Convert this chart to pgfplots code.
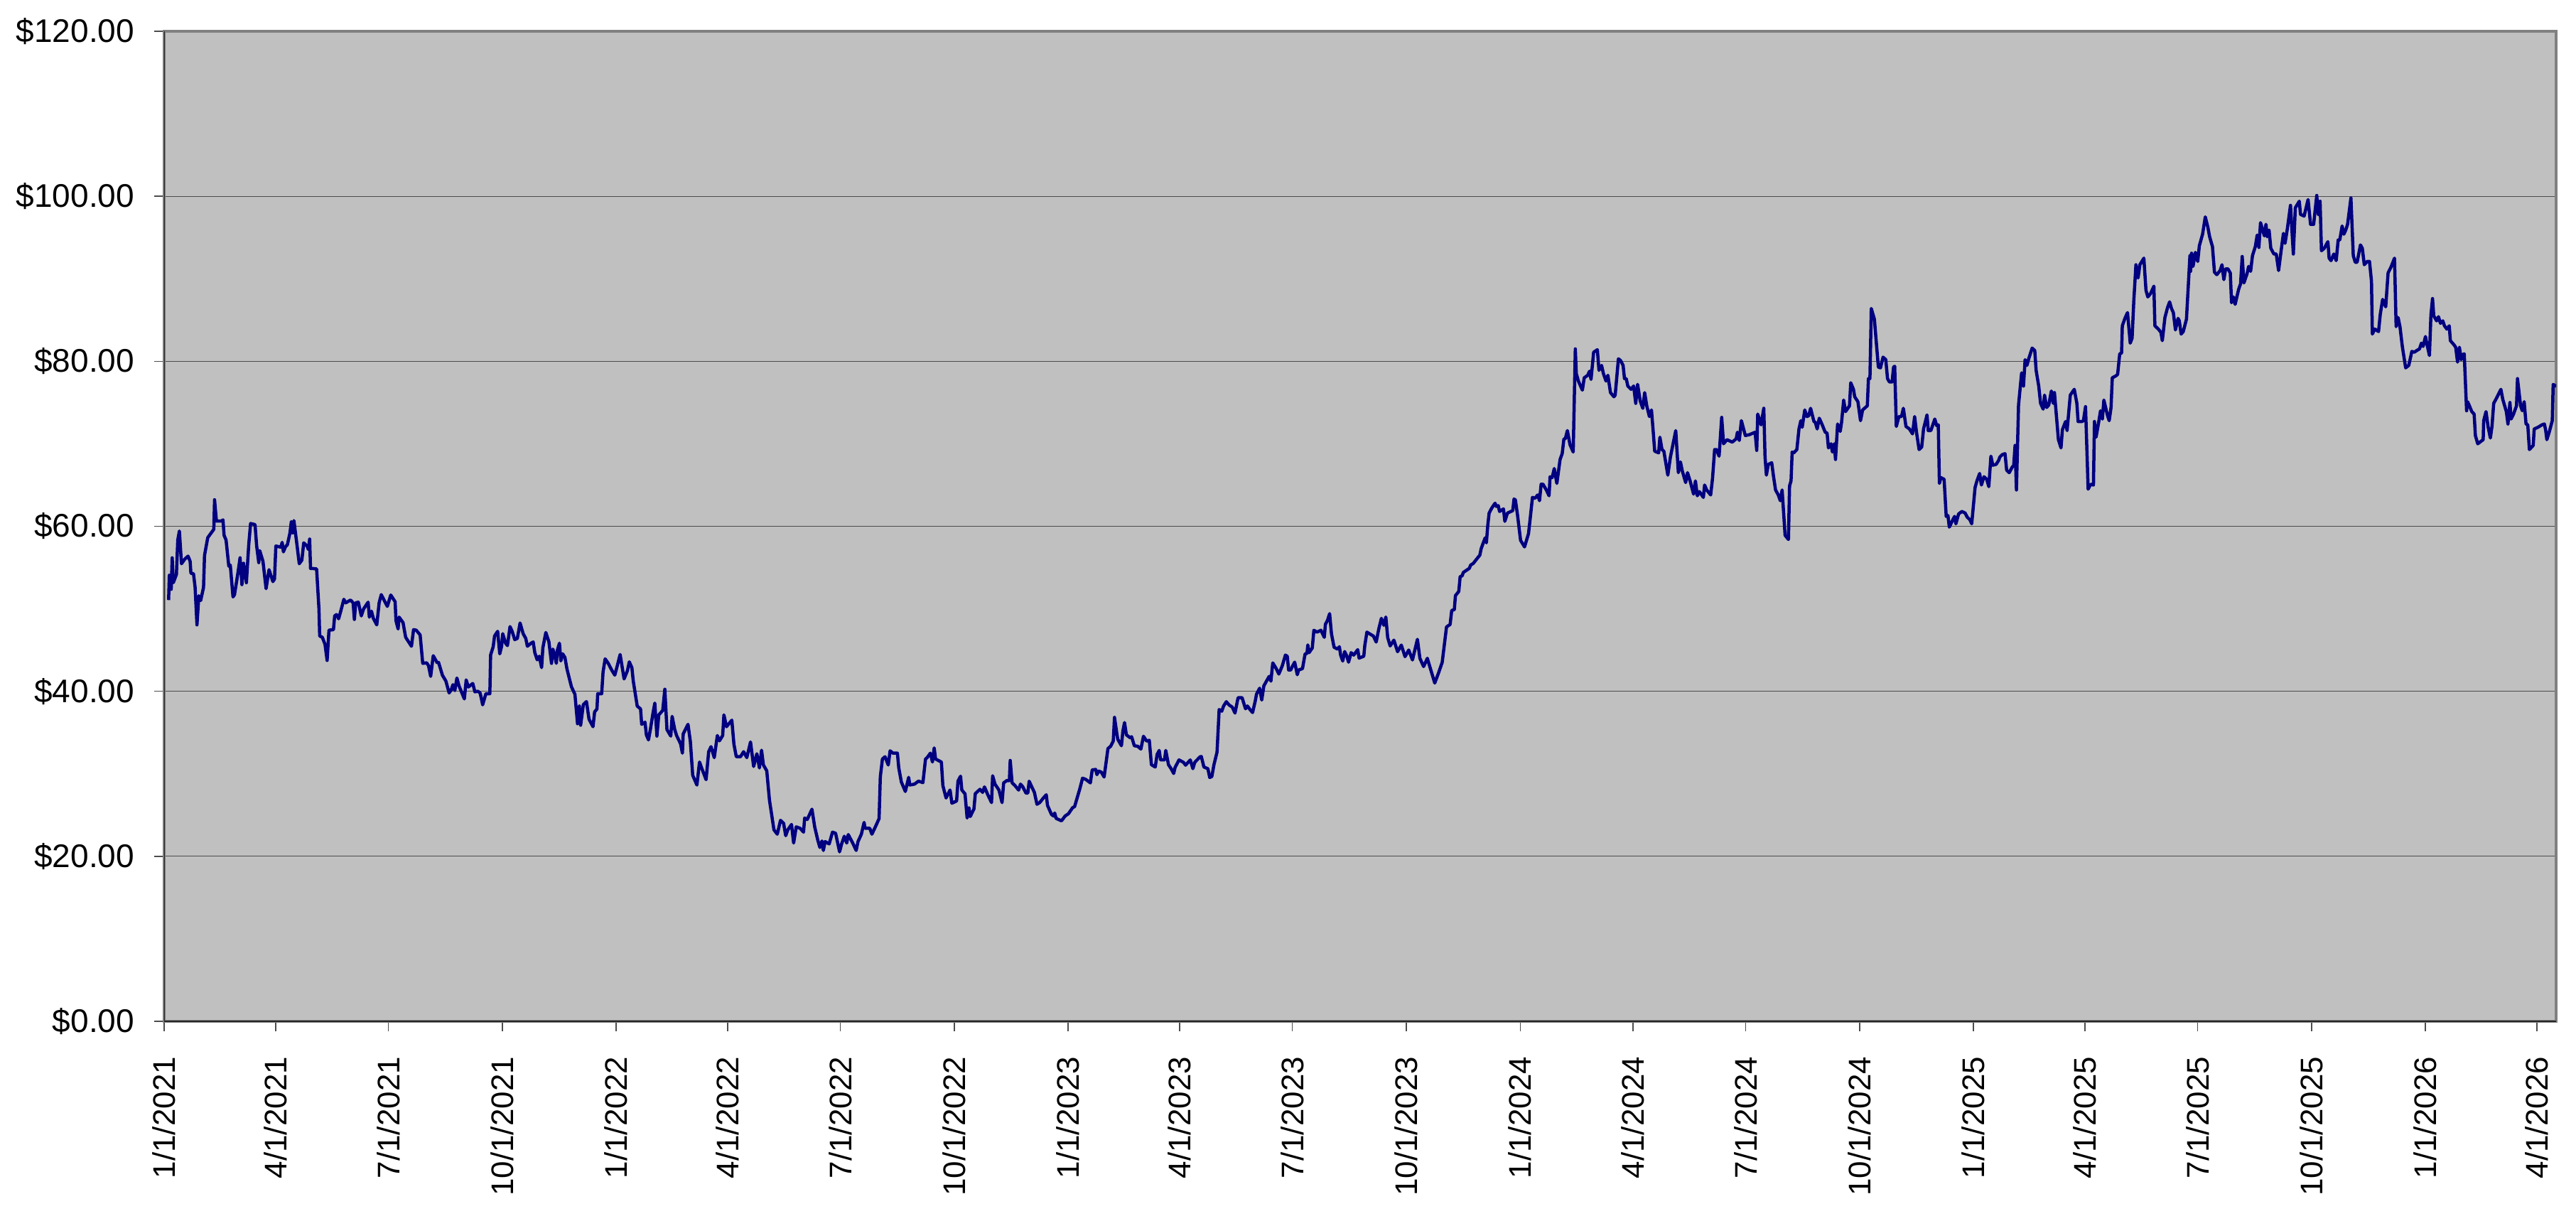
\documentclass[border=0pt]{standalone}
\usepackage{fontspec}
\setmainfont{Liberation Sans}
\usepackage{pgfplots}
\pgfplotsset{compat=1.18}
\definecolor{plotbg}{HTML}{C0C0C0}
\definecolor{navyline}{HTML}{000080}
\definecolor{bordergray}{HTML}{808080}
\begin{document}
\begin{tikzpicture}
\begin{axis}[
  at={(0,0)}, anchor=south west,
  scale only axis,
  width=673.2pt, height=278.6pt,
  xmin=0, xmax=1931.5, ymin=0, ymax=120,
  axis background/.style={fill=plotbg},
  axis line style={bordergray, line width=0.8pt},
  xtick={0,90,181,273,365,455,546,638,730,820,911,1003,1095,1186,1277,1369,1461,1551,1642,1734,1826,1916},
  xticklabels={1/1/2021,4/1/2021,7/1/2021,10/1/2021,1/1/2022,4/1/2022,7/1/2022,10/1/2022,1/1/2023,4/1/2023,7/1/2023,10/1/2023,1/1/2024,4/1/2024,7/1/2024,10/1/2024,1/1/2025,4/1/2025,7/1/2025,10/1/2025,1/1/2026,4/1/2026},
  ytick={0,20,40,60,80,100,120},
  yticklabels={\$0.00,\$20.00,\$40.00,\$60.00,\$80.00,\$100.00,\$120.00},
  tick pos=left, tick align=outside,
  major tick length=2.8pt,
  every tick/.style={black!70, line width=0.3pt},
  ymajorgrids, grid style={black!70, line width=0.24pt},
  yticklabel style={font=\fontsize{9.2}{10}\selectfont, anchor=east, inner sep=0pt, xshift=-5.4pt},
  xticklabel style={font=\fontsize{8.8}{10}\selectfont, yshift=-7pt, rotate=90, anchor=east, inner sep=0pt},
]
\addplot[navyline, line width=0.9pt, line join=round, no marks] table {
d v
3.6 51.06
4.2 54.08
5.0 54.0
5.7 52.36
6.5 56.18
7.4 53.16
8.5 53.6
9.9 54.17
11.0 58.33
12.3 59.43
14.0 55.46
16.7 56.03
19.3 56.38
21.0 55.75
21.6 54.31
23.7 54.25
25.0 52.59
26.5 48.05
28.0 51.58
29.5 51.0
31.8 52.59
32.6 56.47
35.2 58.62
38.0 59.2
40.1 59.63
40.7 63.22
42.2 60.63
46.4 60.63
47.5 60.78
48.4 58.9
50.0 58.33
52.2 55.17
53.4 55.3
55.6 51.44
56.8 51.7
59.6 54.37
61.3 56.18
62.8 52.93
64.1 55.52
66.4 53.16
68.3 57.76
69.8 60.34
73.4 60.2
74.7 57.61
76.4 55.6
77.2 57.04
79.8 55.75
82.3 52.44
84.7 54.74
87.8 53.3
89.1 53.6
90.2 57.61
94.2 57.47
95.3 58.05
96.3 56.9
98.0 57.53
99.5 57.76
101.6 59.2
102.7 60.57
103.8 59.2
104.8 60.69
107.0 58.05
109.1 55.46
111.2 55.9
112.7 57.99
115.4 57.61
116.5 57.18
117.5 58.45
118.2 54.89
119.7 54.89
123.1 54.83
125.0 50.0
125.6 46.7
127.7 46.55
129.9 45.69
131.6 43.74
133.1 47.41
136.7 47.47
137.7 49.14
139.2 49.3
140.9 48.79
142.6 49.71
145.1 51.15
146.6 50.72
150.5 51.06
152.6 50.72
153.6 48.71
154.7 50.72
156.8 50.8
159.2 49.14
161.1 50.0
164.7 50.8
165.7 48.99
167.4 49.71
168.9 48.85
171.7 48.05
173.6 50.72
175.3 51.72
180.2 50.29
183.0 51.67
186.5 50.86
187.2 48.56
188.9 47.56
189.7 48.99
192.9 48.33
195.0 46.55
199.7 45.46
201.4 47.47
203.5 47.41
206.7 46.84
208.8 43.39
212.0 43.45
213.5 43.1
215.2 41.81
217.3 44.31
220.5 43.45
221.6 43.5
224.7 41.95
227.5 41.24
230.1 39.8
231.8 40.17
233.2 40.8
234.7 40.09
236.4 41.61
238.1 40.66
242.4 39.08
243.9 41.38
245.6 40.52
249.2 40.95
250.9 39.94
253.4 40.0
255.1 39.8
256.0 39.22
257.2 38.36
259.8 39.71
263.0 39.71
263.6 44.4
265.7 45.4
266.8 46.7
269.3 47.27
271.0 44.54
272.5 45.46
273.4 46.98
275.7 45.83
277.2 45.54
279.3 47.84
281.0 47.27
283.1 46.26
285.2 46.41
287.4 48.28
289.9 46.98
292.0 46.41
293.3 45.46
296.3 45.83
298.0 45.98
299.3 44.68
301.2 43.82
302.9 44.25
304.8 42.87
305.8 45.26
308.2 47.13
310.7 45.98
312.8 43.39
313.9 45.11
315.0 44.54
316.7 43.39
317.5 44.97
319.2 45.83
320.3 43.68
321.8 44.54
323.6 44.11
325.3 42.68
328.9 40.54
331.7 39.64
333.8 36.07
335.3 38.21
336.3 35.89
338.5 38.39
341.0 38.75
343.1 36.61
346.3 35.71
347.6 37.5
349.5 37.86
350.1 39.71
353.3 39.71
354.4 42.32
356.1 43.93
358.6 43.39
361.4 42.57
363.9 41.96
366.1 43.21
368.2 44.46
371.4 41.5
374.1 42.5
375.6 43.57
377.7 42.86
378.8 41.25
382.0 38.21
384.7 37.86
385.6 36.0
388.3 36.25
389.4 34.71
391.1 34.11
392.6 35.36
394.7 37.32
396.2 38.57
397.9 34.57
399.4 37.14
402.6 37.68
404.3 40.25
406.0 35.36
409.1 34.57
410.2 36.96
412.3 35.36
413.8 34.64
417.0 33.64
418.5 32.5
419.1 34.82
423.0 36.0
424.9 33.93
426.8 29.82
430.2 28.64
432.3 31.43
434.0 30.71
437.6 29.29
439.7 32.68
441.6 33.29
444.2 31.96
446.7 34.64
448.4 34.0
451.0 34.64
452.0 37.14
454.1 35.71
458.4 36.5
460.1 33.57
462.0 32.07
465.4 32.07
467.9 32.68
470.5 31.96
473.5 33.86
476.0 30.89
478.6 32.43
480.7 30.71
482.4 32.86
483.9 31.07
486.6 30.36
488.8 26.79
492.4 23.21
495.1 22.68
497.7 24.36
500.2 24.0
501.9 22.5
503.6 23.21
506.6 23.86
508.3 21.61
510.4 23.57
513.6 23.39
516.3 22.93
517.2 24.64
519.3 24.46
523.1 25.71
525.3 23.57
527.8 21.96
529.5 21.07
531.2 21.86
532.3 20.71
533.7 21.79
537.0 21.5
539.7 22.93
542.2 22.79
545.4 20.54
546.9 21.43
549.2 22.43
551.2 21.61
552.4 22.64
556.0 21.61
558.8 20.71
560.3 21.79
563.0 22.68
565.2 24.11
566.0 23.39
569.8 23.39
571.5 22.68
574.1 23.5
577.3 24.57
578.3 29.64
580.0 31.79
582.1 32.07
584.7 31.07
586.2 32.79
588.5 32.5
592.1 32.5
593.2 30.71
595.3 29.0
598.5 27.86
601.2 29.57
602.1 28.64
605.9 28.75
609.1 29.11
612.7 28.93
614.8 31.79
616.1 31.96
618.7 32.5
620.4 31.43
621.8 33.14
622.9 31.79
627.6 31.43
628.8 28.57
631.4 27.07
634.6 28.04
636.1 26.43
639.9 26.71
641.0 29.11
643.1 29.71
644.1 28.04
646.7 27.57
648.4 24.64
649.9 25.89
650.9 24.82
653.9 25.74
655.0 27.6
657.1 27.89
658.8 28.12
660.9 27.75
662.4 28.41
665.1 27.46
668.1 26.51
669.0 29.76
670.9 28.75
674.1 28.03
676.6 26.51
677.9 28.9
680.4 29.18
682.5 29.18
683.2 31.62
684.7 28.9
686.8 28.61
690.0 28.03
691.5 28.75
693.2 28.46
695.9 27.66
697.4 27.66
698.5 29.1
700.0 28.61
702.7 27.75
704.8 26.31
707.0 26.51
710.1 27.09
712.3 27.46
713.3 26.17
716.5 25.08
718.2 24.88
719.1 25.25
720.3 24.59
724.6 24.3
727.5 24.88
730.3 25.17
733.5 25.88
735.2 26.03
737.7 27.32
739.4 28.18
741.6 29.47
744.1 29.33
747.9 28.9
749.4 30.47
752.2 30.53
753.2 29.9
754.7 30.33
756.8 30.19
759.0 29.61
760.7 31.48
762.1 33.06
764.3 33.34
766.4 33.97
767.4 36.84
769.1 35.06
770.0 34.2
773.0 33.4
774.2 35.21
775.5 36.21
777.0 34.72
780.2 34.35
781.2 34.5
783.4 33.4
786.1 33.34
788.7 33.0
790.8 34.55
793.3 33.97
795.5 34.06
797.2 31.1
800.3 30.82
801.8 32.34
803.5 32.83
804.6 31.68
807.8 31.68
808.8 32.83
811.0 31.1
813.1 30.62
815.2 30.04
816.3 30.76
819.5 31.68
823.1 31.39
824.8 31.05
828.6 31.68
830.7 30.62
832.2 31.39
836.4 32.05
837.5 32.1
839.6 30.82
842.8 30.62
844.3 29.55
846.0 29.67
847.7 31.1
850.2 32.63
851.9 37.79
854.0 37.59
855.5 38.22
857.7 38.74
859.8 38.36
862.5 38.08
864.7 37.36
867.2 39.23
870.4 39.23
873.2 37.88
874.7 38.22
876.8 37.79
878.9 37.42
881.0 38.79
882.1 39.66
884.6 40.37
886.3 38.94
888.0 40.66
890.1 41.23
892.3 41.81
893.7 41.23
895.2 43.44
898.0 42.75
900.1 42.09
902.9 43.1
905.4 44.39
906.9 44.25
908.0 42.58
909.7 42.58
910.8 42.95
912.9 43.53
915.0 42.01
916.1 42.58
919.2 42.75
921.3 44.53
922.8 44.59
923.5 45.62
924.5 44.68
927.1 45.25
928.4 47.4
930.9 47.17
934.1 47.4
936.8 46.54
937.7 48.12
939.4 48.61
941.1 49.41
942.6 46.97
944.7 45.34
947.5 45.11
949.0 45.4
950.0 44.39
951.7 43.67
953.2 44.82
954.9 44.3
956.4 43.53
958.5 44.68
960.6 44.39
963.8 45.05
964.9 44.02
968.7 44.25
969.5 45.54
971.2 47.17
976.5 46.69
978.7 45.97
980.8 47.55
982.9 48.84
984.9 48.0
986.5 49.0
988.0 46.5
990.0 45.5
993.0 46.2
996.0 44.8
999.0 45.6
1002.0 44.2
1005.0 45.0
1008.0 43.8
1012.0 46.3
1014.0 44.0
1017.0 43.0
1020.0 44.0
1023.0 42.5
1026.0 41.0
1029.0 42.2
1032.0 43.5
1035.5 47.8
1038.4 48.1
1039.7 49.8
1041.8 49.9
1042.7 51.6
1045.4 52.1
1046.5 53.9
1048.2 54.0
1049.0 54.4
1053.9 54.9
1055.0 55.3
1057.1 55.5
1059.7 56.0
1062.4 56.5
1063.5 57.3
1065.2 58.0
1066.7 58.6
1067.7 58.0
1068.8 60.1
1069.9 61.6
1072.0 62.2
1074.7 62.8
1075.8 62.4
1077.3 62.5
1078.3 61.8
1081.5 62.1
1082.6 60.6
1084.7 61.6
1089.0 61.9
1090.0 63.3
1091.1 63.2
1092.8 61.4
1095.3 58.3
1098.5 57.5
1101.7 59.1
1103.4 61.4
1104.9 63.5
1107.0 63.4
1109.1 63.8
1110.6 63.1
1111.9 65.1
1113.4 65.1
1116.1 64.4
1118.3 63.7
1119.1 66.0
1120.8 65.9
1122.5 67.0
1124.6 65.2
1127.2 68.1
1128.9 68.8
1130.3 70.6
1131.4 70.6
1133.1 71.6
1135.2 69.9
1137.8 69.0
1139.5 81.5
1140.3 78.5
1142.0 77.6
1145.2 76.5
1146.7 78.0
1149.5 78.3
1151.0 78.8
1152.2 77.8
1154.3 81.1
1157.3 81.4
1158.6 78.9
1160.7 79.5
1162.2 78.5
1164.3 77.6
1165.8 78.3
1167.9 76.2
1170.7 75.7
1171.7 75.9
1174.3 80.3
1176.0 80.1
1178.1 79.5
1179.2 77.9
1180.6 77.9
1181.9 77.0
1184.5 76.6
1186.6 77.0
1188.3 74.9
1189.8 77.2
1191.9 75.2
1194.0 74.3
1195.5 76.2
1197.2 74.6
1199.3 73.3
1201.0 74.1
1202.5 71.3
1203.6 69.1
1206.8 68.9
1207.8 70.8
1209.5 69.3
1211.0 69.1
1214.2 66.2
1216.3 68.4
1220.6 71.6
1222.7 66.5
1224.4 67.8
1225.9 66.7
1228.6 65.3
1230.1 66.5
1232.2 65.5
1235.0 63.9
1236.5 65.5
1238.0 63.7
1239.7 64.2
1242.9 63.5
1243.9 65.0
1245.6 64.4
1248.8 63.8
1250.3 65.8
1252.0 69.3
1253.5 69.3
1255.6 68.5
1257.7 73.2
1259.2 70.0
1262.0 70.5
1266.2 70.2
1269.4 70.6
1270.4 71.4
1271.9 70.4
1273.6 72.8
1276.8 71.0
1280.0 71.1
1284.7 71.4
1286.0 69.2
1286.8 73.6
1289.5 72.3
1291.7 74.3
1292.7 68.4
1293.8 66.2
1295.3 67.5
1298.1 67.7
1299.5 66.1
1301.2 64.4
1303.4 63.8
1305.0 63.1
1306.5 64.4
1308.9 58.9
1311.6 58.4
1312.5 64.9
1313.7 65.5
1314.6 69.0
1315.9 68.9
1318.4 69.3
1320.1 71.8
1321.6 72.8
1322.7 72.0
1324.8 74.1
1326.5 73.3
1328.0 73.4
1329.5 74.3
1332.2 72.7
1333.3 72.6
1334.8 71.8
1336.5 73.1
1338.6 72.4
1341.3 71.4
1342.8 71.3
1343.9 69.5
1346.0 70.0
1347.1 69.0
1348.6 70.0
1349.6 68.1
1351.3 72.4
1353.4 71.5
1354.5 72.6
1356.2 75.3
1357.7 73.9
1360.9 74.6
1361.9 77.4
1364.1 76.6
1365.1 75.7
1367.7 75.1
1369.8 72.8
1371.5 74.1
1375.3 74.6
1376.2 77.9
1377.4 77.9
1378.5 86.4
1381.0 85.1
1384.2 79.3
1385.9 79.2
1388.0 80.5
1390.2 80.2
1391.6 77.9
1393.1 77.5
1395.3 77.5
1396.5 79.3
1397.4 79.4
1398.7 72.1
1400.8 73.3
1402.9 73.3
1404.4 74.3
1406.5 72.1
1409.3 71.8
1411.8 71.2
1413.5 73.3
1415.0 71.4
1417.1 69.3
1419.2 69.6
1420.7 71.8
1423.5 73.5
1424.5 71.6
1426.6 71.6
1429.8 73.0
1431.3 72.2
1432.6 72.3
1433.5 65.2
1434.7 65.9
1437.3 65.7
1439.0 61.2
1440.4 61.3
1441.5 59.9
1444.7 60.9
1445.8 61.2
1446.8 60.3
1449.0 61.5
1451.7 61.8
1454.3 61.6
1456.0 61.1
1458.1 60.8
1459.6 60.3
1462.3 64.7
1463.8 65.5
1466.0 66.4
1467.4 65.0
1469.5 66.0
1471.7 65.7
1473.4 64.8
1475.1 68.5
1476.6 67.4
1479.3 67.5
1481.4 68.0
1482.3 68.4
1484.4 68.7
1486.5 68.8
1487.8 66.8
1489.9 66.5
1492.0 67.1
1493.5 67.4
1494.6 69.8
1495.7 64.4
1497.4 74.7
1498.8 76.9
1499.9 78.6
1501.4 77.0
1502.7 80.2
1504.2 79.5
1505.6 80.3
1508.4 81.6
1510.5 81.3
1511.6 78.9
1513.7 77.0
1515.2 74.9
1517.3 74.2
1518.4 75.9
1520.1 74.4
1521.8 74.7
1523.9 76.4
1525.4 74.9
1526.4 76.2
1529.6 70.5
1531.7 69.5
1532.8 71.7
1535.4 72.7
1536.6 71.6
1539.2 75.9
1542.4 76.6
1544.5 74.9
1545.5 72.7
1548.7 72.7
1549.8 72.8
1551.5 74.5
1553.6 64.5
1555.7 65.1
1557.9 65.0
1558.7 72.7
1560.0 70.8
1562.1 72.6
1563.6 74.0
1565.1 73.0
1566.3 75.3
1569.3 73.4
1570.6 72.8
1572.1 74.4
1573.1 78.0
1575.7 78.2
1577.4 78.4
1579.1 80.9
1580.6 81.0
1581.2 84.3
1583.3 85.2
1585.4 85.9
1587.6 82.2
1589.1 82.8
1590.5 87.4
1592.2 91.7
1593.9 90.1
1595.4 91.7
1598.6 92.5
1600.3 88.6
1601.8 87.8
1604.0 88.2
1606.7 89.1
1607.5 84.3
1610.3 83.9
1612.4 83.5
1613.5 82.5
1615.6 85.3
1617.7 86.5
1619.4 87.2
1620.9 86.4
1622.4 85.9
1624.1 83.8
1626.2 85.2
1627.2 84.9
1628.7 83.3
1630.4 83.6
1633.0 85.1
1635.8 92.8
1636.3 90.9
1637.1 93.1
1638.3 91.5
1640.2 93.2
1642.1 92.1
1643.4 94.0
1646.0 95.4
1648.2 97.5
1650.2 96.3
1651.7 95.1
1654.0 93.9
1655.6 90.8
1657.5 90.5
1660.2 91.0
1661.7 91.7
1663.2 89.9
1664.6 91.2
1666.5 91.2
1668.4 90.7
1669.4 87.1
1670.9 87.8
1672.3 86.9
1675.1 88.7
1676.7 89.4
1678.0 92.7
1679.4 89.5
1681.9 90.6
1683.2 91.5
1684.8 90.9
1686.3 92.8
1688.6 93.9
1690.1 95.3
1691.5 93.8
1692.8 96.8
1694.4 96.0
1695.9 95.2
1697.2 96.6
1698.2 95.1
1699.7 95.9
1701.1 93.7
1703.6 93.0
1705.5 93.0
1707.4 91.0
1709.7 93.7
1711.3 95.5
1712.6 94.3
1714.5 96.1
1717.0 98.9
1719.3 93.0
1720.9 98.6
1724.1 99.4
1725.1 97.8
1728.0 97.6
1731.2 99.6
1733.2 96.6
1735.7 96.6
1738.2 100.1
1739.5 97.8
1740.9 99.4
1742.0 93.4
1744.3 93.7
1747.2 94.5
1748.2 92.5
1749.7 92.2
1752.0 93.0
1753.9 92.2
1755.5 94.7
1756.8 94.7
1758.7 96.4
1760.1 95.4
1761.6 95.9
1763.1 96.6
1765.8 99.8
1767.7 92.8
1769.3 92.0
1770.8 92.0
1773.5 94.1
1775.0 93.7
1776.6 91.7
1778.9 92.1
1780.8 92.1
1782.4 89.7
1783.1 83.3
1785.1 83.9
1788.1 83.6
1789.5 85.7
1791.4 87.5
1793.9 86.6
1795.8 90.7
1798.1 91.4
1801.0 92.5
1802.3 84.2
1803.9 85.3
1805.4 84.2
1807.3 81.8
1810.0 79.2
1812.5 79.5
1815.0 81.2
1817.0 81.1
1818.9 81.3
1821.2 81.5
1822.7 82.2
1824.1 81.8
1826.0 83.0
1827.0 82.2
1829.2 80.7
1830.4 85.6
1831.7 87.6
1832.7 85.5
1835.0 84.9
1836.5 85.4
1838.1 84.6
1840.0 84.9
1841.3 84.3
1843.3 83.9
1845.2 84.3
1846.1 82.5
1849.0 82.0
1850.4 81.7
1851.9 79.9
1853.4 81.7
1854.8 80.2
1855.8 80.8
1857.3 80.9
1859.2 74.0
1860.0 75.1
1861.5 74.6
1863.4 73.9
1865.3 73.6
1866.3 71.0
1868.2 70.0
1872.6 70.5
1873.0 72.8
1874.9 73.9
1876.5 72.1
1878.4 70.7
1879.7 72.1
1881.1 74.9
1883.6 75.6
1886.9 76.6
1888.4 75.4
1891.3 73.9
1892.6 72.4
1894.2 75.0
1895.1 73.0
1897.1 73.6
1899.5 74.6
1900.3 77.9
1902.8 74.6
1904.2 74.0
1905.7 75.1
1907.2 72.4
1908.6 72.3
1909.9 69.3
1913.0 69.8
1913.8 71.8
1916.8 72.0
1920.1 72.3
1922.0 72.4
1923.0 71.7
1924.0 70.5
1925.9 71.4
1928.4 72.8
1929.1 77.2
1930.7 77.0
1931.5 77.2
};
\draw[black!85, line width=0.4pt] (rel axis cs:0,1) -- (rel axis cs:0,0) -- (rel axis cs:1,0);
\end{axis}
\pgfresetboundingbox
\useasboundingbox (-46.2pt,-57.6pt) rectangle (678.8pt,287.4pt);
\end{tikzpicture}
\end{document}
